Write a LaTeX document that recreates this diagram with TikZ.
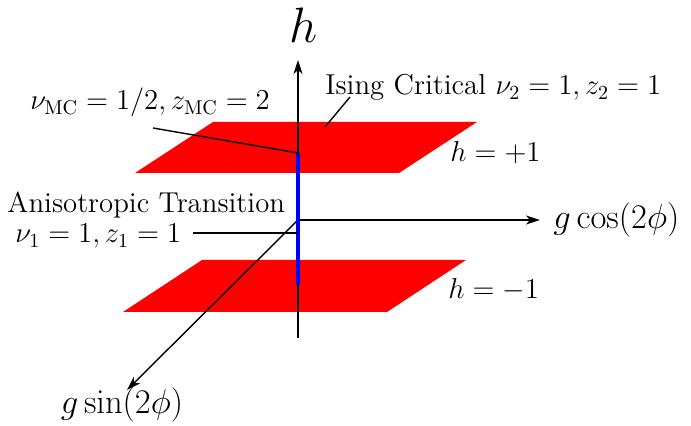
\documentclass[tikz,border=0pt]{standalone}
\usetikzlibrary{arrows.meta}
\begin{document}
\begin{tikzpicture}[x=0.5pt,y=-0.5pt,
  plane/.style={fill=red,draw=none},
  axis/.style={line width=0.7pt,-{Stealth[length=7pt,width=4.5pt,inset=2pt]}},
  leader/.style={line width=0.7pt},
  crit/.style={line width=2.2pt,blue},
  lbl/.style={inner sep=0pt,font=\Large},
  axlbl/.style={inner sep=0pt,font=\LARGE}]
\useasboundingbox (0,0) rectangle (691,426);
% planes
\fill[plane] (213,122) -- (477,122) -- (399,173) -- (135,173) -- cycle;
\fill[plane] (202,260) -- (466,260) -- (387,312) -- (123,312) -- cycle;
% coordinates
\coordinate (O) at (298,220);
\coordinate (hbot) at (298,338);
\coordinate (htop) at (298,60);
\coordinate (xend) at (540,220);
\coordinate (yend) at (127,390);
\coordinate (btop) at (298,153);
\coordinate (bbot) at (298,285);
\coordinate (aniso) at (298,233);
% axes
\draw[axis] (hbot) -- (htop);
\draw[axis] (O) -- (xend);
\draw[axis] (O) -- (yend);
% critical line
\draw[crit] (btop) -- (bbot);
% labels
\node[inner sep=0pt,font=\Huge,anchor=base] (hl) at (304,43) {$h$};
\node[axlbl,anchor=west] (gc) at (553,220) {$g\cos(2\phi)$};
\node[axlbl] (gs) at (122,405) {$g\sin(2\phi)$};
\node[lbl,anchor=base west] (ising) at (325,95) {Ising Critical $\nu_2=1, z_2=1$};
\node[lbl,anchor=base west] (mc) at (30,110) {$\nu_{\mathrm{MC}}=1/2, z_{\mathrm{MC}}=2$};
\node[lbl,anchor=base west] (hp) at (450,162) {$h=+1$};
\node[lbl,anchor=base west] (hm) at (448,299) {$h=-1$};
\node[lbl,anchor=base west] (an) at (7,213) {Anisotropic Transition};
\node[lbl,anchor=base west] (nu1) at (15,243) {$\nu_1=1, z_1=1$};
% leaders
\coordinate (isingA) at (350,97);
\coordinate (isingB) at (325,127);
\coordinate (mcA) at (153,128);
\coordinate (anA) at (193,233);
\draw[leader] (isingA) -- (isingB);
\draw[leader] (mcA) -- (btop);
\draw[leader] (anA) -- (aniso);
\end{tikzpicture}
\end{document}
